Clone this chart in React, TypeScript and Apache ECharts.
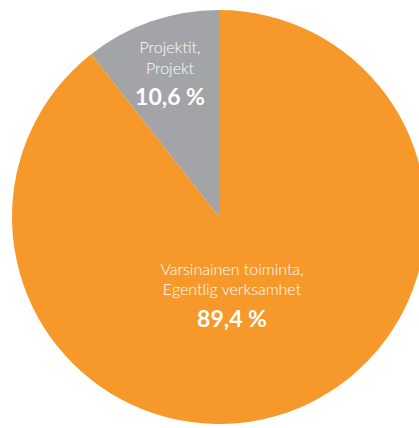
import React, { useEffect, useRef } from "react";
import * as echarts from "echarts";

const categories = ["Projektit, Projekt", "Varsinainen toiminta, Egentlig verksamhet"];
const labelLines = [
  ["Projektit,", "Projekt"],
  ["Varsinainen toiminta,", "Egentlig verksamhet"],
];
const values = [10.6, 89.4];
const colors = ["#A3A4A8", "#F7992A"];

const fmt = (v: number) => v.toFixed(1).replace(".", ",") + " %";

export default function App() {
  const ref = useRef<HTMLDivElement>(null);
  useEffect(() => {
    if (!ref.current) return;
    const chart = echarts.init(ref.current, null, { renderer: "svg" });
    const font = "Lato, 'Noto Sans', sans-serif";
    const txt = (x: number, y: number, text: string, size: number, weight: any) => ({
      type: "text",
      x,
      y,
      style: {
        text,
        fill: "#ffffff",
        font: `${weight} ${size}px ${font}`,
        align: "center",
        verticalAlign: "middle",
      },
      z: 10,
    });
    chart.setOption({
      animation: false,
      series: [
        {
          type: "pie",
          center: [219, 217],
          radius: [0, 207],
          startAngle: 90,
          clockwise: false,
          label: { show: false },
          labelLine: { show: false },
          itemStyle: { borderWidth: 0 },
          emphasis: { disabled: true },
          data: categories.map((c, i) => ({
            name: c,
            value: values[i],
            itemStyle: { color: colors[i] },
          })),
        },
      ],
      graphic: [
        txt(170, 46, labelLines[0][0], 16, "300"),
        txt(170, 67, labelLines[0][1], 16, "300"),
        txt(170, 96, fmt(values[0]), 23, "bold"),
        txt(232, 268, labelLines[1][0], 16, "300"),
        txt(232, 288, labelLines[1][1], 16, "300"),
        txt(232, 318, fmt(values[1]), 23, "bold"),
      ],
    });
    return () => chart.dispose();
  }, []);
  return (
    <div
      ref={ref}
      style={{ position: "fixed", left: 0, top: 0, width: 419, height: 428, background: "#ffffff" }}
    />
  );
}
